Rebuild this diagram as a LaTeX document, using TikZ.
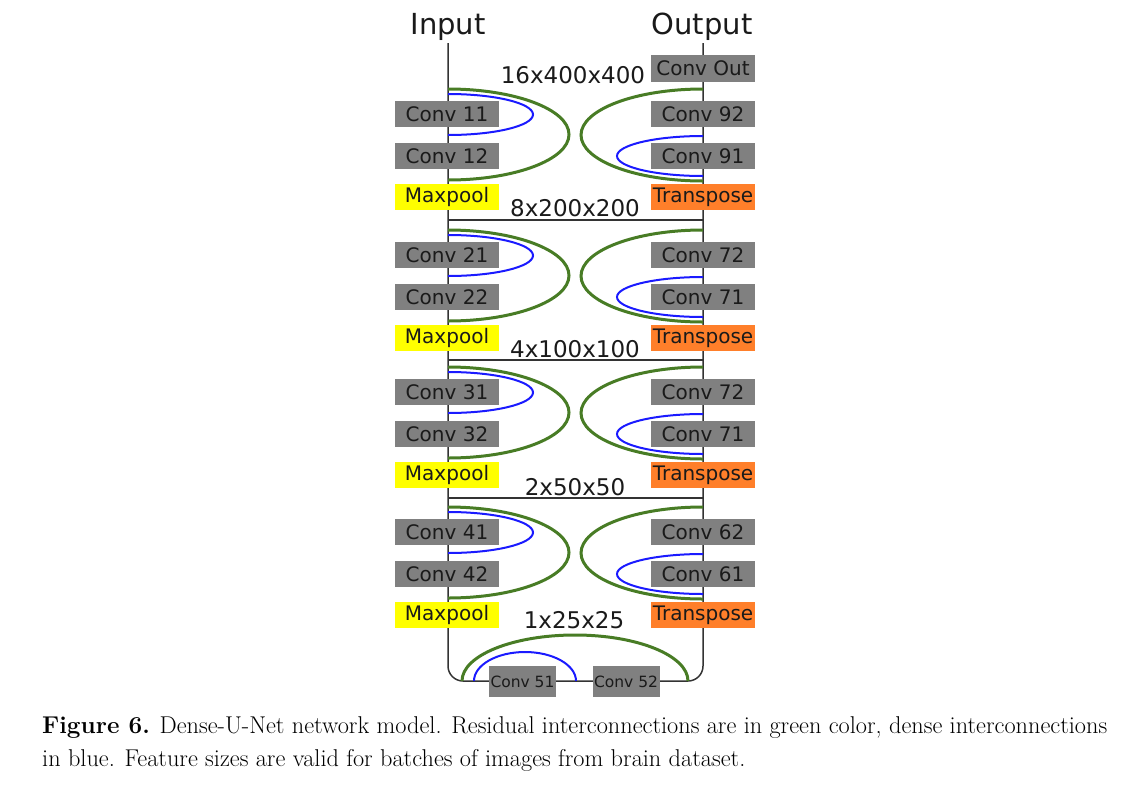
\documentclass[tikz,border=0pt]{standalone}
\usepackage{fontspec}
\usetikzlibrary{backgrounds}
\newfontfamily\dv{DejaVu Sans}
\definecolor{gbox}{HTML}{808080}
\definecolor{ybox}{HTML}{FFFF00}
\definecolor{obox}{HTML}{FF7F2A}
\definecolor{res}{HTML}{487C25}
\definecolor{den}{HTML}{1A1AFF}
\definecolor{wire}{HTML}{333333}
\definecolor{txt}{HTML}{1A1A1A}
\tikzset{
  box/.style={minimum width=104pt, minimum height=26.5pt, inner sep=0pt, text=txt, font=\dv\fontsize{20}{24}\selectfont},
  conv/.style={box, fill=gbox},
  pool/.style={box, fill=ybox},
  upbox/.style={box, fill=obox},
  smallconv/.style={conv, minimum width=67pt, minimum height=31pt, font=\dv\fontsize{15.5}{18}\selectfont},
  dimlabel/.style={inner sep=0pt, text=txt, font=\dv\fontsize{23}{27}\selectfont},
  iolabel/.style={inner sep=0pt, text=txt, font=\dv\fontsize{29}{34}\selectfont},
  resid/.style={draw=res, line width=3pt},
  dense/.style={draw=den, line width=2pt},
  wireline/.style={draw=wire, line width=1.5pt},
  captext/.style={inner sep=0pt, anchor=base west, text=black, font=\fontsize{24.3}{29}\selectfont}
}
\begin{document}
\begin{tikzpicture}[x=1pt,y=-1pt]
\useasboundingbox (0,0) rectangle (1128,796);
% titles
\node[iolabel] (input) at (448,27) {Input};
\node[iolabel] (output) at (702,27) {Output};
\coordinate (inTop) at (448,43);
\coordinate (outTop) at (703,43);
\node[conv] (convout) at (703,68.5) {Conv Out};
\node[dimlabel] (d1) at (573,75) {16x400x400};
% blocks
\foreach \i/\c/\la/\lb/\ra/\rb in {1/114/11/12/92/91, 2/255/21/22/72/71, 3/392/31/32/72/71, 4/532/41/42/62/61} {
  \node[conv] (l\i a) at (447,\c) {Conv \la};
  \node[conv] (l\i b) at (447,\c+42) {Conv \lb};
  \node[pool] (mp\i) at (447,\c+83) {Maxpool};
  \node[conv] (r\i a) at (703,\c) {Conv \ra};
  \node[conv] (r\i b) at (703,\c+42) {Conv \rb};
  \node[upbox] (tp\i) at (703,\c+83) {Transpose};
  \coordinate (gl\i) at (448,\c-25);
  \coordinate (bl\i) at (448,\c-20);
  \coordinate (gr\i) at (703,\c-25);
  \coordinate (br\i) at (703,\c+22);
}
\node[dimlabel] (d2) at (575,208) {8x200x200};
\node[dimlabel] (d3) at (575,349) {4x100x100};
\node[dimlabel] (d4) at (575,487) {2x50x50};
\node[dimlabel] (d5) at (574,620) {1x25x25};
% bottom
\node[smallconv] (c51) at (522.5,681.5) {Conv 51};
\node[smallconv] (c52) at (626,681.5) {Conv 52};
\coordinate (bl) at (448,681);
\coordinate (br) at (703,681);
\coordinate (gb) at (462,681);
\coordinate (bb) at (474,681);
\coordinate (h1l) at (448,220); \coordinate (h1r) at (703,220);
\coordinate (h2l) at (448,360); \coordinate (h2r) at (703,360);
\coordinate (h3l) at (448,498); \coordinate (h3r) at (703,498);
% caption
\node[captext] (cap1) at (42,733) {\textbf{Figure 6.} Dense-U-Net network model. Residual interconnections are in green color, dense interconnections};
\node[captext] (cap2) at (42,766) {in blue. Feature sizes are valid for batches of images from brain dataset.};
\begin{scope}[on background layer]
  \draw[wireline, rounded corners=15pt] (inTop) -- (bl) -- (br) -- (outTop);
  \draw[wireline] (h1l) -- (h1r);
  \draw[wireline] (h2l) -- (h2r);
  \draw[wireline] (h3l) -- (h3r);
  \foreach \i in {1,2,3,4} {
    \draw[resid] (gl\i) arc[start angle=90, end angle=-90, x radius=121pt, y radius=45.5pt];
    \draw[dense] (bl\i) arc[start angle=90, end angle=-90, x radius=85pt, y radius=20.5pt];
    \draw[resid] (gr\i) arc[start angle=90, end angle=270, x radius=122pt, y radius=46pt];
    \draw[dense] (br\i) arc[start angle=90, end angle=270, x radius=86pt, y radius=20pt];
  }
  \draw[resid] (gb) arc[start angle=180, end angle=0, x radius=113pt, y radius=46pt];
  \draw[dense] (bb) arc[start angle=180, end angle=0, x radius=51pt, y radius=29pt];
\end{scope}
\end{tikzpicture}
\end{document}
